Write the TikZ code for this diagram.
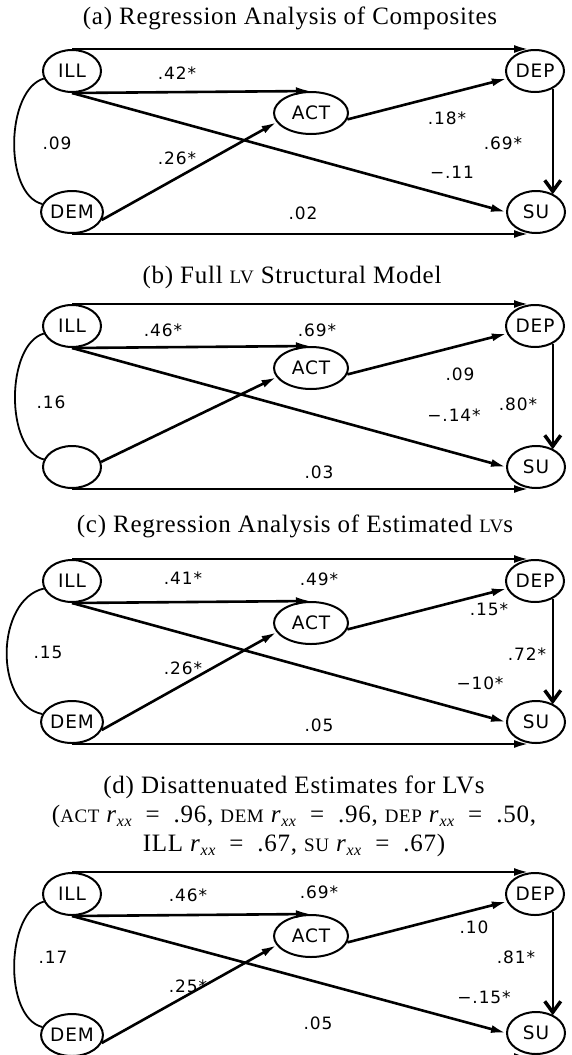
\documentclass[tikz,border=0pt]{standalone}
\usepackage{fontspec}
\setmainfont{Liberation Serif}
\newfontfamily\labfam[LetterSpace=5]{DejaVu Sans}
\newfontfamily\ttlfam[LetterSpace=3]{Liberation Serif}
\usetikzlibrary{arrows.meta,shapes.geometric,calc}
\newcommand\mysc[1]{{\fontsize{19}{19}\selectfont #1}}
\newcommand\rxx{\textit{r}\raisebox{-0.35ex}{\fontsize{16}{16}\selectfont\itshape xx}}
\newcommand\eqs{\ \ =\ \ }
\tikzset{
  var/.style={draw, ellipse, line width=2pt, minimum width=58pt, minimum height=42pt,
    inner sep=0pt, font=\labfam\fontsize{18.5}{18.5}\selectfont},
  actvar/.style={var, minimum width=74pt},
  pth/.style={line width=2.6pt, -{Latex[length=15pt,width=8pt]}},
  vpth/.style={line width=1.6pt, -{Straight Barb[length=11pt,width=16pt,line width=3.5pt]}},
  corr/.style={line width=1.8pt},
  coef/.style={font=\labfam\fontsize{17}{17}\selectfont, inner sep=0pt},
  ttl/.style={font=\ttlfam\fontsize{25}{29}\selectfont, inner sep=0pt, align=center}
}
\begin{document}
\begin{tikzpicture}[x=1pt,y=-1pt]
\fill[white] (0,0) rectangle (571,1055);
\useasboundingbox (0,0) rectangle (571,1055);

% ---------------- (a)
\node[ttl] (ta) at (290,18.5) {(a) Regression Analysis of Composites};
\begin{scope}[shift={(0,50)}]
\node[var] (ILLa) at (72,21) {ILL};
\node[var] (DEPa) at (535,21) {DEP};
\node[actvar] (ACTa) at (311,63) {ACT};
\node[var] (DEMa) at (72,162) {DEM};
\node[var] (SUa) at (536,162) {SU};
\draw[pth] (ILLa.north) -- ([xshift=-6pt]DEPa.north);
\draw[pth] (ILLa.south) -- (ACTa.north);
\draw[pth] (ILLa.south) -- (SUa.west);
\draw[pth] (DEMa.-15) -- (ACTa.-165);
\draw[pth] (ACTa.-10) -- (DEPa.195);
\draw[vpth] (DEPa.-45) -- (DEPa.-45 |- SUa.45);
\draw[pth] (DEMa.south) -- ([xshift=-7pt]SUa.south);
\draw[corr] (ILLa.195) .. controls +(-38,11) and +(-39,-10) .. (DEMa.165);
\node[coef] (a1) at (177,23) {.42*};
\node[coef] (a2) at (57,93) {.09};
\node[coef] (a3) at (177,108) {.26*};
\node[coef] (a4) at (447,68) {.18*};
\node[coef] (a5) at (503,93) {.69*};
\node[coef] (a6) at (452,122) {−.11};
\node[coef] (a7) at (303,163) {.02};
\end{scope}

% ---------------- (b)
\node[ttl] (tb) at (292,277) {(b) Full \mysc{LV} Structural Model};
\begin{scope}[shift={(0,305)}]
\node[var] (ILLb) at (72,21) {ILL};
\node[var] (DEPb) at (535,21) {DEP};
\node[actvar] (ACTb) at (311,63) {ACT};
\node[var] (DEMb) at (72,162) {};
\node[var] (SUb) at (536,162) {SU};
\draw[pth] (ILLb.north) -- ([xshift=-6pt]DEPb.north);
\draw[pth] (ILLb.south) -- (ACTb.north);
\draw[pth] (ILLb.south) -- (SUb.west);
\draw[pth] (DEMb.10) -- (ACTb.-165);
\draw[pth] (ACTb.-10) -- (DEPb.195);
\draw[vpth] (DEPb.-45) -- (DEPb.-45 |- SUb.45);
\draw[pth] (DEMb.south) -- ([xshift=-7pt]SUb.south);
\draw[corr] (ILLb.195) .. controls +(-38,11) and +(-39,-10) .. (DEMb.165);
\node[coef] (b1) at (163,25) {.46*};
\node[coef] (b2) at (317,25) {.69*};
\node[coef] (b3) at (460,69) {.09};
\node[coef] (b4) at (518,99) {.80*};
\node[coef] (b5) at (454,110) {−.14*};
\node[coef] (b6) at (51,97) {.16};
\node[coef] (b7) at (319,167) {.03};
\end{scope}

% ---------------- (c)
\node[ttl] (tc) at (295,526) {(c) Regression Analysis of Estimated \mysc{LV}s};
\begin{scope}[shift={(0,560)}]
\node[var] (ILLc) at (72,21) {ILL};
\node[var] (DEPc) at (535,21) {DEP};
\node[actvar] (ACTc) at (311,63) {ACT};
\node[var] (DEMc) at (72,162) {DEM};
\node[var] (SUc) at (536,162) {SU};
\draw[pth] (ILLc.north) -- ([xshift=-6pt]DEPc.north);
\draw[pth] (ILLc.south) -- (ACTc.north);
\draw[pth] (ILLc.south) -- (SUc.west);
\draw[pth] (DEMc.-15) -- (ACTc.-165);
\draw[pth] (ACTc.-10) -- (DEPc.195);
\draw[vpth] (DEPc.-45) -- (DEPc.-45 |- SUc.45);
\draw[pth] (DEMc.south) -- ([xshift=-7pt]SUc.south);
\draw[corr] (ILLc.195) .. controls +(-48,11) and +(-49,-10) .. (DEMc.165);
\node[coef] (c1) at (183,18) {.41*};
\node[coef] (c2) at (319,19) {.49*};
\node[coef] (c3) at (489,49) {.15*};
\node[coef] (c4) at (527,94) {.72*};
\node[coef] (c5) at (480,123) {−10*};
\node[coef] (c6) at (183,108) {.26*};
\node[coef] (c7) at (48,92) {.15};
\node[coef] (c8) at (319,165) {.05};
\end{scope}

% ---------------- (d)
\node[ttl] (td) at (294,816) {(d) Disattenuated Estimates for LVs\\
(\mysc{ACT} \rxx\eqs.96, \mysc{DEM} \rxx\eqs.96, \mysc{DEP} \rxx\eqs.50,\\
ILL \rxx\eqs.67, \mysc{SU} \rxx\eqs.67)};
\begin{scope}[shift={(0,873)}]
\node[var] (ILLd) at (72,21) {ILL};
\node[var] (DEPd) at (535,21) {DEP};
\node[actvar] (ACTd) at (311,63) {ACT};
\node[var] (DEMd) at (72,162) {DEM};
\node[var] (SUd) at (536,160) {SU};
\draw[pth] (ILLd.north) -- ([xshift=-6pt]DEPd.north);
\draw[pth] (ILLd.south) -- (ACTd.north);
\draw[pth] (ILLd.south) -- (SUd.west);
\draw[pth] (DEMd.-15) -- (ACTd.-165);
\draw[pth] (ACTd.-10) -- (DEPd.195);
\draw[vpth] (DEPd.-45) -- (DEPd.-45 |- SUd.45);
\draw[pth] (DEMd.south) -- ([xshift=-7pt]SUd.south |- DEMd.south);
\draw[corr] (ILLd.195) .. controls +(-38,11) and +(-39,-10) .. (DEMd.165);
\node[coef] (d1) at (188,22) {.46*};
\node[coef] (d2) at (319,19) {.69*};
\node[coef] (d3) at (474,54) {.10};
\node[coef] (d4) at (516,84) {.81*};
\node[coef] (d5) at (484,124) {−.15*};
\node[coef] (d6) at (53,84) {.17};
\node[coef] (d7) at (188,113) {.25*};
\node[coef] (d8) at (318,150) {.05};
\end{scope}
\end{tikzpicture}
\end{document}
